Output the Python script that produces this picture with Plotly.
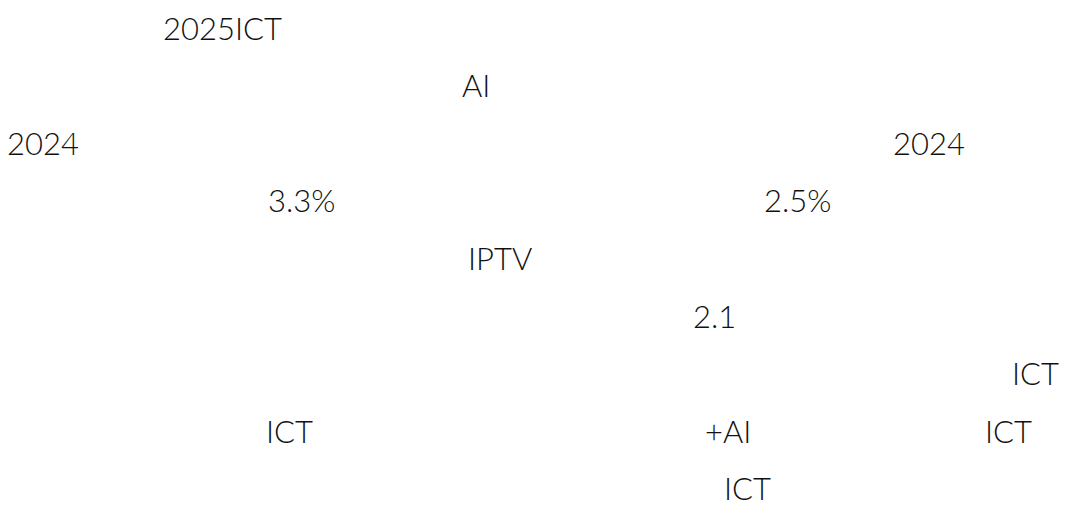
import plotly.graph_objects as go

# Visible text fragments of the reference (CJK glyphs in the source are blank)
fragments = ["2025ICT", "AI", "2024", "2024", "3.3%", "2.5%", "IPTV",
             "2.1", "ICT", "ICT", "+AI", "ICT", "ICT"]
# line number of each fragment in the paragraph
line_of_fragment = [0, 1, 2, 2, 3, 3, 4, 5, 6, 7, 7, 7, 8]

# layout: horizontal start of each fragment's first glyph on its line (pixels)
x_start_px = [162.7, 460.7, 7.3, 893.3, 268.3, 764.0, 469.3,
              693.3, 1013.3, 267.3, 705.0, 985.7, 724.7]

W, H = 1074, 521
FIRST_BASELINE = 40.0
LINE_STEP = 57.6
FONT = dict(family="Lato", size=31, weight=300, color="#111111")
CAP_HALF = 11.1        # half the cap height
BOX_SHIFT_Y = 9.3      # annotation box middle vs cap centre
BOX_PAD_X = 7.5        # annotation box left vs glyph origin
LSB = {"2": 1.5, "3": 1.5, "I": 2.6, "A": 0.3, "+": 2.0}

fig = go.Figure()
for txt, ln, xp in zip(fragments, line_of_fragment, x_start_px):
    baseline = FIRST_BASELINE + ln * LINE_STEP
    yc = baseline - CAP_HALF - BOX_SHIFT_Y
    xs = xp - BOX_PAD_X - LSB.get(txt[0], 1.5)
    fig.add_annotation(
        text=txt, x=xs / W, y=1 - yc / H,
        xref="paper", yref="paper", xanchor="left", yanchor="middle",
        showarrow=False, borderpad=0, font=FONT,
    )

fig.update_layout(
    width=W, height=H, margin=dict(l=0, r=0, t=0, b=0),
    paper_bgcolor="white", plot_bgcolor="white",
    xaxis=dict(visible=False), yaxis=dict(visible=False),
    showlegend=False,
)
fig.write_html("out.html")
